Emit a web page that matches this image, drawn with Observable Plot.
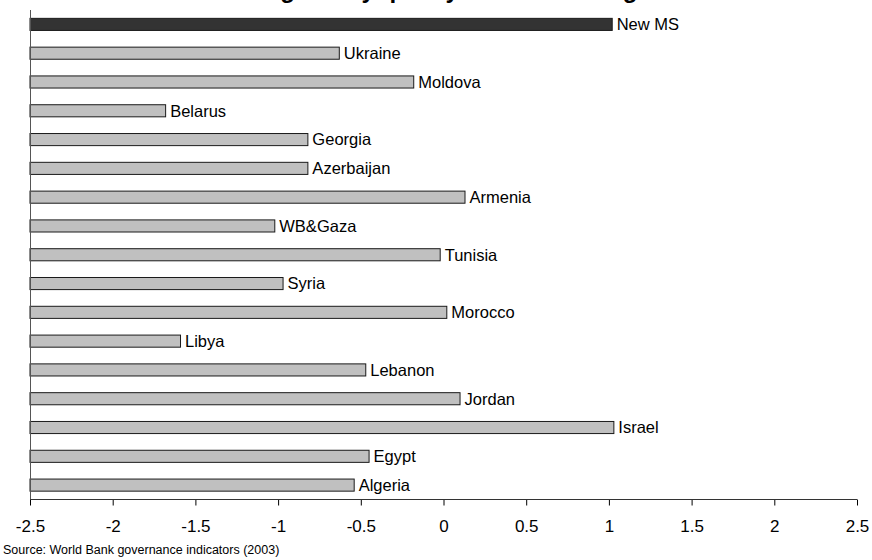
<!DOCTYPE html>
<html><head><meta charset="utf-8">
<script src="https://cdn.jsdelivr.net/npm/d3@7"></script>
<script src="https://cdn.jsdelivr.net/npm/@observablehq/plot@0.6"></script>
<style>
html,body{margin:0;padding:0;background:#fff;overflow:hidden;width:872px;height:560px}
body{position:relative;font-family:"Liberation Sans",Arial,sans-serif}
#chart{position:absolute;left:0;top:0}
#title{position:absolute;left:0;width:887px;top:-22px;text-align:center;font-weight:bold;font-size:24px;line-height:24px;white-space:nowrap;color:#000}
#source{position:absolute;left:3px;top:540px;font-size:12.5px;line-height:20px;color:#000;white-space:nowrap}
</style></head>
<body>
<div id="chart"></div>
<div id="title"></div>
<div id="source"></div>
<script>
const title = "Regulatory quality: benchmarking";
const source = "Source: World Bank governance indicators (2003)";
const countries = ["New MS","Ukraine","Moldova","Belarus","Georgia","Azerbaijan","Armenia","WB&Gaza","Tunisia","Syria","Morocco","Libya","Lebanon","Jordan","Israel","Egypt","Algeria"];
const values = [1.02,-0.63,-0.18,-1.68,-0.82,-0.82,0.13,-1.02,-0.02,-0.97,0.02,-1.59,-0.47,0.10,1.03,-0.45,-0.54];
const highlighted = ["New MS"];
const xTicks = [-2.5,-2,-1.5,-1,-0.5,0,0.5,1,1.5,2,2.5];

const xDomain = [xTicks[0], xTicks[xTicks.length - 1]];
const data = countries.map((c, i) => ({country: c, value: values[i], base: xDomain[0],
  color: highlighted.includes(c) ? "#333333" : "#c0c0c0"}));

document.getElementById("title").textContent = title;
document.getElementById("source").textContent = source;

const axisLines = (index, scales, values, dims) => {
  const g = d3.create("svg:g").attr("shape-rendering", "crispEdges");
  const left = scales.x(xDomain[0]), right = scales.x(xDomain[1]);
  const top = dims.marginTop, bottom = dims.height - dims.marginBottom;
  g.append("line").attr("x1", left).attr("x2", left).attr("y1", top).attr("y2", bottom).attr("stroke", "#555");
  g.append("line").attr("x1", left).attr("x2", right).attr("y1", bottom).attr("y2", bottom).attr("stroke", "#333");
  return g.node();
};

const chart = Plot.plot({
  width: 872, height: 540,
  marginTop: 10, marginBottom: 40.5, marginLeft: 30, marginRight: 15,
  style: {fontFamily: "'Liberation Sans', Arial, sans-serif", fontSize: "17px", background: "white", color: "#000"},
  x: {domain: xDomain, ticks: xTicks, tickFormat: d => String(d), tickSize: 6, tickPadding: 14, label: null},
  y: {domain: countries, paddingInner: 0.58, paddingOuter: 0.29, round: false, axis: null},
  color: {type: "identity"},
  marks: [
    Plot.barX(data, {x1: "base", x2: "value", y: "country", fill: "color", stroke: "#1a1a1a", strokeWidth: 1}),
    Plot.text(data, {x: "value", y: "country", text: "country", textAnchor: "start", dx: 4, fontSize: 16.5, fill: "#000"}),
    axisLines
  ]
});
document.getElementById("chart").appendChild(chart);
</script>
</body></html>
